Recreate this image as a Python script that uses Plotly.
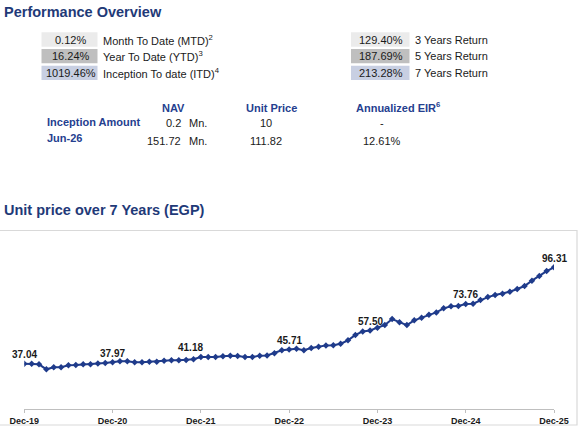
import plotly.graph_objects as go
import pandas as pd

# unit price, monthly Dec-19 .. Dec-25 (EGP)
unit_price = [
    37.04, 37.02, 36.67, 33.60, 34.83, 34.90, 36.05, 36.24, 36.67, 36.70,
    37.10, 37.47, 37.97, 38.55, 38.55, 37.90, 37.90, 38.27, 38.30, 38.88,
    39.13, 39.20, 39.31, 39.80, 41.18, 41.10, 41.15, 41.60, 42.00, 41.80,
    41.20, 41.20, 42.00, 42.10, 43.50, 45.30, 45.71, 46.20, 45.30, 46.70,
    47.50, 48.30, 48.40, 49.30, 51.40, 54.70, 56.90, 57.50, 59.20, 60.80,
    64.50, 62.50, 60.80, 63.70, 65.30, 67.20, 68.60, 71.10, 72.30, 72.50,
    73.76, 73.90, 76.20, 78.00, 79.30, 80.10, 81.30, 83.00, 84.80, 88.10,
    91.00, 94.00, 96.31,
]
months = [d.strftime("%b-%y") for d in pd.date_range("2019-12-01", periods=len(unit_price), freq="MS")]
year_ticks = ["Dec-19", "Dec-20", "Dec-21", "Dec-22", "Dec-23", "Dec-24", "Dec-25"]
labelled = ["Dec-19", "Dec-20", "Dec-21", "Dec-22", "Nov-23", "Dec-24", "Dec-25"]

# performance block
left_values = ["0.12%", "16.24%", "1019.46%"]
left_labels = ["Month To Date (MTD)<sup>2</sup>", "Year To Date (YTD)<sup>3</sup>",
               "Inception To date (ITD)<sup>4</sup>"]
right_values = ["129.40%", "187.69%", "213.28%"]
right_labels = ["3 Years Return", "5 Years Return", "7 Years Return"]

table_headers = ["NAV", "Unit Price", "Annualized EIR<sup>6</sup>"]
row_names = ["Inception Amount", "Jun-26"]
nav_values = ["0.2", "151.72"]
price_values = ["10", "111.82"]
eir_values = ["-", "12.61%"]

W, H = 582, 435
FONT = "Liberation Sans, Arial, sans-serif"
NAVY = "#1f3a78"
HEAD = "#25408f"
LINE = "#1f3b8b"
TXT = "#1a1a1a"
box_colors = ["#ebebeb", "#bfbfbf", "#c8cfe2"]


def px(x):
    return x / W


def py(y):
    return 1 - y / H


fig = go.Figure()
fig.add_trace(go.Scatter(
    x=months, y=unit_price, mode="lines+markers",
    line=dict(color=LINE, width=2),
    marker=dict(symbol="diamond", size=5, color=LINE),
    hoverinfo="x+y", showlegend=False,
))

annotations = []
shapes = []


def text(x, y, s, size=11, color=TXT, bold=False, anchor="left"):
    if bold:
        s = "<b>" + s + "</b>"
    annotations.append(dict(
        x=px(x), y=py(y), xref="paper", yref="paper", text=s, showarrow=False,
        xanchor=anchor, yanchor="middle", font=dict(family=FONT, size=size, color=color),
    ))


# titles
text(2, 12, "Performance Overview", size=14.5, color=NAVY, bold=True)
text(2, 210, "Unit price over 7 Years (EGP)", size=14.5, color=NAVY, bold=True)

# return boxes
rows_y = [(32.3, 46.7), (49, 63.3), (65.7, 80)]
for i, (y0, y1) in enumerate(rows_y):
    for bx0, bx1 in [(41.5, 97.5), (351, 409.5)]:
        shapes.append(dict(type="rect", xref="paper", yref="paper",
                           x0=px(bx0), x1=px(bx1), y0=py(y1), y1=py(y0),
                           fillcolor=box_colors[i], line=dict(width=0), layer="below"))
    yc = (y0 + y1) / 2
    text(70.5, yc, left_values[i], anchor="center")
    text(100.5, yc, left_labels[i])
    text(381, yc, right_values[i], anchor="center")
    text(413, yc, right_labels[i])

# NAV / unit price table
text(173.3, 108.3, table_headers[0], color=HEAD, bold=True, anchor="center")
text(271.3, 108.3, table_headers[1], color=HEAD, bold=True, anchor="center")
text(354, 107.5, table_headers[2], color=HEAD, bold=True)
for i, (ly, vy) in enumerate([(122.3, 123.5), (138, 141)]):
    text(45, ly, row_names[i], color=HEAD, bold=True)
    text(182.8, vy, nav_values[i], anchor="right")
    text(187, vy, "Mn.")
    text(266, vy, price_values[i], anchor="center")
    text(382, vy, eir_values[i], anchor="center")

# chart frame
shapes.append(dict(type="rect", xref="paper", yref="paper",
                   x0=px(-2), x1=px(577), y0=py(425), y1=py(230.5),
                   line=dict(color="#d9d9d9", width=1.2)))

# data labels
label_shift = {"Dec-21": -10}
for m in labelled:
    v = unit_price[months.index(m)]
    annotations.append(dict(
        x=m, y=v, xref="x", yref="y", text="<b>%.2f</b>" % v, showarrow=False,
        xanchor="center", yanchor="middle", yshift=9, xshift=label_shift.get(m, 0),
        font=dict(family=FONT, size=10, color=TXT),
    ))

fig.update_layout(
    width=W, height=H,
    margin=dict(l=0, r=0, t=0, b=0, pad=0),
    paper_bgcolor="white", plot_bgcolor="white",
    xaxis=dict(
        type="category", domain=[px(24.3), px(554)], range=[0, len(months) - 1],
        showline=True, linecolor="#bfbfbf", linewidth=1, automargin=False,
        ticks="outside", ticklen=3, tickcolor="#bfbfbf",
        tickvals=year_ticks, ticktext=year_ticks, showgrid=False,
        tickfont=dict(family=FONT, size=9, color=TXT, weight="bold"),
    ),
    yaxis=dict(domain=[py(409), py(240)], range=[9.19, 113.1], visible=False,
               automargin=False),
    annotations=annotations,
    shapes=shapes,
)

fig.write_html("out.html", config={"displayModeBar": False},
               post_script="document.body.style.margin='0';")
